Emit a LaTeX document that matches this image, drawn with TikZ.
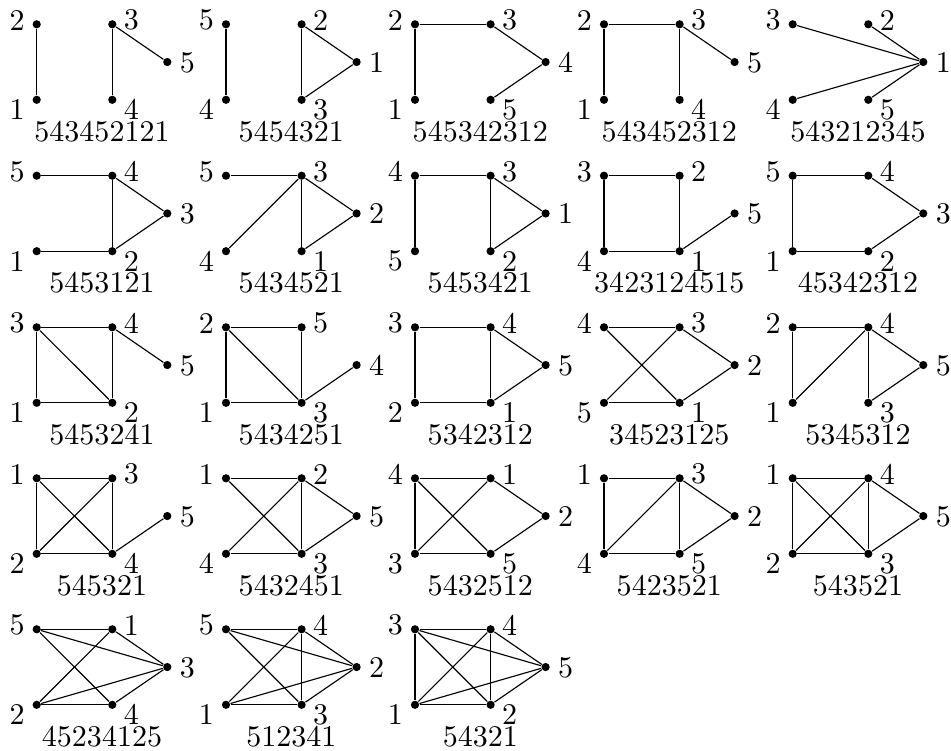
\documentclass[tikz,border=0pt]{standalone}
\tikzset{
  vdot/.style={circle,fill=black,inner sep=0pt,minimum size=2.9pt},
  lab/.style={inner sep=0pt},
  captext/.style={inner sep=0pt},
  edgeline/.style={line width=0.4pt}
}
\newcommand{\Gw}{75.6}
\newcommand{\Gr}{55}
\newcommand{\Gph}[9]{%
  \node[vdot] (#1-#4) at (#2,#3) {};
  \node[vdot] (#1-#5) at (#2,#3+75.5) {};
  \node[vdot] (#1-#6) at (#2+\Gw,#3) {};
  \node[vdot] (#1-#7) at (#2+\Gw,#3+75.5) {};
  \node[vdot] (#1-#8) at (#2+\Gw+\Gr,#3+37.75) {};
  \node[lab,anchor=east] (#1-#4l) at (#2-11.5,#3-4) {#4};
  \node[lab,anchor=east] (#1-#5l) at (#2-11.5,#3+85.5) {#5};
  \node[lab,anchor=west] (#1-#6l) at (#2+\Gw+11,#3-4) {#6};
  \node[lab,anchor=west] (#1-#7l) at (#2+\Gw+11,#3+85.5) {#7};
  \node[lab,anchor=west] (#1-#8l) at (#2+\Gw+\Gr+12,#3+38.25) {#8};
  \node[captext] (#1-cap) at (#2+\Gw/2+\Gr/2,#3+107) {#9};
}
\newcommand{\Ed}[2]{\foreach \a/\b in {#2}{\draw[edgeline] (#1-\a) -- (#1-\b);}}
\begin{document}
\begin{tikzpicture}[x=0.353pt,y=-0.353pt,font=\fontsize{10.6}{12.7}\selectfont]
\useasboundingbox (0,0) rectangle (951,751);
% Row 1
\Gph{g1}{36.7}{24.3}{2}{1}{3}{4}{5}{543452121}
\Ed{g1}{2/1,3/4,3/5}
\Gph{g2}{226}{24.3}{5}{4}{2}{3}{1}{5454321}
\Ed{g2}{5/4,2/3,2/1,3/1}
\Gph{g3}{415}{24.3}{2}{1}{3}{5}{4}{545342312}
\Ed{g3}{2/3,2/1,3/4,4/5}
\Gph{g4}{604}{24.3}{2}{1}{3}{4}{5}{543452312}
\Ed{g4}{2/3,2/1,3/4,3/5}
\Gph{g5}{792.7}{24.3}{3}{4}{2}{5}{1}{543212345}
\Ed{g5}{3/1,2/1,4/1,5/1}
% Row 2
\Gph{g6}{36.7}{175.7}{5}{1}{4}{2}{3}{5453121}
\Ed{g6}{5/4,1/2,4/2,4/3,2/3}
\Gph{g7}{226}{175.7}{5}{4}{3}{1}{2}{5434521}
\Ed{g7}{5/3,4/3,3/1,3/2,1/2}
\Gph{g8}{415}{175.7}{4}{5}{3}{2}{1}{5453421}
\Ed{g8}{4/3,4/5,3/2,3/1,2/1}
\Gph{g9}{604}{175.7}{3}{4}{2}{1}{5}{3423124515}
\Ed{g9}{3/2,3/4,2/1,4/1,1/5}
\Gph{g10}{792.7}{175.7}{5}{1}{4}{2}{3}{45342312}
\Ed{g10}{5/4,5/1,4/3,1/2,2/3}
% Row 3
\Gph{g11}{36.7}{327.3}{3}{1}{4}{2}{5}{5453241}
\Ed{g11}{3/4,3/1,3/2,4/2,1/2,4/5}
\Gph{g12}{226}{327.3}{2}{1}{5}{3}{4}{5434251}
\Ed{g12}{2/5,2/1,2/3,5/3,1/3,3/4}
\Gph{g13}{415}{327.3}{3}{2}{4}{1}{5}{5342312}
\Ed{g13}{3/4,3/2,4/1,4/5,1/5,2/1}
\Gph{g14}{604}{327.3}{4}{5}{3}{1}{2}{34523125}
\Ed{g14}{4/3,4/1,5/3,5/1,3/2,1/2}
\Gph{g15}{792.7}{327.3}{2}{1}{4}{3}{5}{5345312}
\Ed{g15}{2/4,2/1,1/4,4/3,4/5,3/5}
% Row 4
\Gph{g16}{36.7}{478.3}{1}{2}{3}{4}{5}{545321}
\Ed{g16}{1/3,1/2,1/4,2/3,3/4,2/4,4/5}
\Gph{g17}{226}{478.3}{1}{4}{2}{3}{5}{5432451}
\Ed{g17}{1/2,1/3,4/2,4/3,2/3,2/5,3/5}
\Gph{g18}{415}{478.3}{4}{3}{1}{5}{2}{5432512}
\Ed{g18}{4/1,4/3,4/5,3/1,3/5,1/2,5/2}
\Gph{g19}{604}{478.3}{1}{4}{3}{5}{2}{5423521}
\Ed{g19}{1/3,1/4,4/3,3/5,4/5,3/2,5/2}
\Gph{g20}{792.7}{478.3}{1}{2}{4}{3}{5}{543521}
\Ed{g20}{1/4,1/2,1/3,2/4,4/3,2/3,4/5,3/5}
% Row 5
\Gph{g21}{36.7}{629.3}{5}{2}{1}{4}{3}{45234125}
\Ed{g21}{5/1,5/3,5/4,1/3,1/2,2/3,2/4,4/3}
\Gph{g22}{226}{629.3}{5}{1}{4}{3}{2}{512341}
\Ed{g22}{5/4,5/2,5/3,4/1,4/3,4/2,1/2,1/3,3/2}
\Gph{g23}{415}{629.3}{3}{1}{4}{2}{5}{54321}
\Ed{g23}{3/4,3/1,3/2,3/5,4/1,4/2,4/5,1/2,1/5,2/5}
\end{tikzpicture}
\end{document}
